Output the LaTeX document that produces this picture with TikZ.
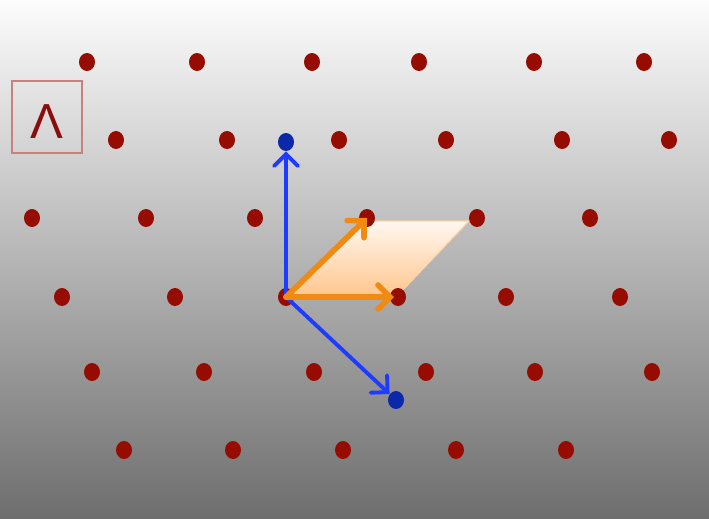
\documentclass[tikz,border=0pt]{standalone}
\usepackage{fontspec}
\setmainfont{Liberation Sans}
\usetikzlibrary{shapes.geometric, arrows.meta, positioning}
\definecolor{bgtop}{RGB}{252,252,252}
\definecolor{bgbot}{RGB}{110,110,110}
\definecolor{dotred}{RGB}{150,12,0}
\definecolor{dotblue}{RGB}{12,40,170}
\definecolor{vecblue}{RGB}{30,60,255}
\definecolor{vecorange}{RGB}{240,138,18}
\definecolor{boxred}{RGB}{200,130,125}
\definecolor{lamred}{RGB}{140,12,12}

\begin{document}
\begin{tikzpicture}[x=0.02cm, y=-0.02cm,
    dot/.style={ellipse, fill=dotred, minimum width=0.32cm, minimum height=0.36cm, inner sep=0pt},
    bluedot/.style={dot, fill=dotblue},
    vec/.style={line width=2.2pt, line cap=round, -{Straight Barb[length=0.24cm, width=0.48cm, line cap=round]}}
    ]
    \useasboundingbox (0,0) rectangle (709,518);
    \shade[top color=bgtop, bottom color=bgbot] (0,0) rectangle (709,518);

    % cell of the lattice
    \shade[top color=orange!6!white, bottom color=orange!45!white, draw=orange!35!white, line width=0.6pt]
        (288,297) -- (396,297) -- (469,221) -- (368,221) -- cycle;

    \foreach \x/\y/\n in {87/62/a1, 197/62/a2, 312/62/a3, 419/62/a4, 534/62/a5, 644/62/a6,
                          116/140/b1, 227/140/b2, 339/140/b3, 446/140/b4, 562/140/b5, 669/140/b6,
                          32/218/c1, 146/218/c2, 255/218/c3, 367/218/c4, 477/218/c5, 590/218/c6,
                          62/297/d1, 175/297/d2, 286/297/d3, 398/297/d4, 506/297/d5, 620/297/d6,
                          92/372/e1, 204/372/e2, 314/372/e3, 426/372/e4, 535/372/e5, 652/372/e6,
                          124/450/f1, 233/450/f2, 343/450/f3, 456/450/f4, 566/450/f5}
        \node[dot] (\n) at (\x,\y) {};

    \node[bluedot] (u1) at (286,142) {};
    \node[bluedot] (u2) at (396,400) {};

    \draw[vec, vecblue] (d3.center) -- (u1);
    \draw[vec, vecblue] (d3.center) -- (u2);
    \draw[vec, vecorange, line width=3.2pt] (d3.center) -- (c4.center);
    \draw[vec, vecorange, line width=3.2pt, shorten >=0.08cm] (d3.center) -- (d4.center);

    \node[draw=boxred, line width=0.8pt, minimum width=1.4cm, minimum height=1.44cm] (lambox) at (47,117) {};
    \node[text=lamred, inner sep=0pt] (lam) at (47,122) {\fontsize{28}{30}\selectfont Λ};
\end{tikzpicture}
\end{document}
